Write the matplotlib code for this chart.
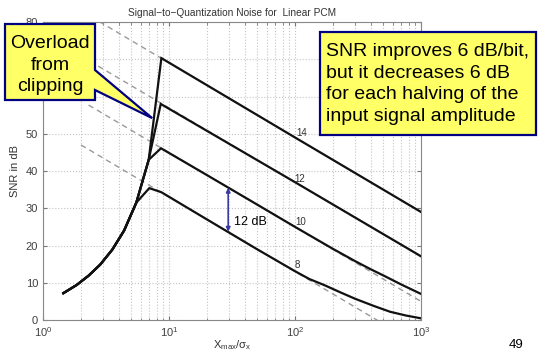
import matplotlib.pyplot as plt
from matplotlib.patches import Polygon
from matplotlib.ticker import LogLocator, NullFormatter

plt.rcParams['font.family'] = ['Liberation Sans', 'DejaVu Sans']
plt.rcParams['mathtext.fontset'] = 'custom'
plt.rcParams['mathtext.rm'] = 'Liberation Sans'
plt.rcParams['mathtext.it'] = 'Liberation Sans:italic'
plt.rcParams['mathtext.default'] = 'regular'

# shared overload (clipping) path, same for every word length
overload_x = [1.45, 1.85, 2.3, 2.85, 3.55, 4.4, 5.5]
overload_snr = [7.2, 9.4, 11.9, 14.9, 18.9, 24.0, 31.5]
# point where the 10/12/14 bit curves leave the 8 bit one
knee_x = [6.9]
knee_snr = [43.0]

# each word length: peak, then granular-noise slope out to X=1000
b8_x = [6.98, 8.7, 20, 50, 100, 130, 170, 230, 300, 420, 570, 760, 1000]
b8_snr = [35.4, 34.3, 27.0, 19.0, 13.1, 11.0, 9.4, 7.4, 5.7, 3.8, 2.2, 1.2, 0.45]
b10_x = [8.64, 20, 50, 100, 200, 300, 400, 500, 700, 1000]
b10_snr = [46.1, 38.9, 31.0, 25.0, 19.1, 15.8, 13.6, 12.0, 9.5, 7.0]
b12_x = [8.6, 100, 1000]
b12_snr = [58.0, 37.0, 17.1]
b14_x = [8.7, 100, 1000]
b14_snr = [70.3, 49.0, 29.0]

# dashed 6B + 4.77 - 20log(X) asymptotes: start point and value at X=1000
bits = ['8', '10', '12', '14']
asym_x0 = [2.0, 2.3, 2.35, 2.8]
asym_snr0 = [47.0, 57.7, 69.5, 80.1]
asym_snr1000 = [-7.0, 5.0, 17.0, 29.0]

# where the bit labels sit
label_x = [104, 110, 109, 112]
label_snr = [14.8, 26.4, 37.8, 50.1]

# the 12 dB gap marked between the 8 and 10 bit curves
gap_x = 29.5
gap_lo, gap_hi = 23.7, 35.5

W, H = 538, 353
fig = plt.figure(figsize=(W / 100, H / 100), dpi=100)
ax = fig.add_axes([43 / W, 1 - 320 / H, (421 - 43) / W, (320 - 22) / H])

for x0, s0, s1 in zip(asym_x0, asym_snr0, asym_snr1000):
    ax.plot([x0, 1000], [s0, s1], color='#9a9a9a', lw=1.0, dashes=(4, 3), zorder=2)

curves = [
    (overload_x + b8_x, overload_snr + b8_snr),
    (overload_x + knee_x + b10_x, overload_snr + knee_snr + b10_snr),
    (overload_x + knee_x + b12_x, overload_snr + knee_snr + b12_snr),
    (overload_x + knee_x + b14_x, overload_snr + knee_snr + b14_snr),
]
for xs, ys in curves:
    ax.plot(xs, ys, color='#111111', lw=1.6, solid_joinstyle='miter', zorder=3)

for b, lx, ly in zip(bits, label_x, label_snr):
    ax.text(lx, ly, b, fontsize=7, color='#333333', ha='center', va='center')

ax.annotate('', xy=(gap_x, gap_hi), xytext=(gap_x, gap_lo),
            arrowprops=dict(arrowstyle='<|-|>', color='#3a3aa0', lw=1.2,
                            mutation_scale=6, shrinkA=0, shrinkB=0))
ax.text(32.8, 26.4, '12 dB', fontsize=9, ha='left', va='center')

ax.set_xscale('log')
ax.set_xlim(1, 1000)
ax.set_ylim(0, 80)
ax.set_yticks(range(0, 81, 10))
# 60 and 70 sit under the callout box anyway
ax.set_yticklabels(['0', '10', '20', '30', '40', '50', '', '', '80'])
ax.xaxis.set_minor_locator(LogLocator(base=10, subs=range(2, 10)))
ax.xaxis.set_minor_formatter(NullFormatter())
ax.grid(True, which='major', color='#c4c4c4', ls=':', lw=0.8)
ax.grid(True, which='minor', axis='x', color='#c4c4c4', ls=':', lw=0.8)
ax.tick_params(which='both', direction='in', top=True, right=True,
               labelsize=8, labelcolor='#404040', color='#777777')
ax.tick_params(which='major', length=3, pad=3.5)
ax.tick_params(which='minor', length=1.8)
for s in ax.spines.values():
    s.set_color('#888888')
    s.set_linewidth(0.8)

ax.set_title('Signal\u2212to\u2212Quantization Noise for  Linear PCM',
             fontsize=7.3, color='#333333', pad=4)
ax.set_xlabel(r'X$_{max}$/$\sigma_x$', fontsize=8, color='#333333', labelpad=0)
ax.set_ylabel('SNR in dB', fontsize=8, color='#333333', labelpad=4)


def fpos(x, y):
    return (x / W, 1 - y / H)


# callout pointing at the overload corner
tip = fig.transFigure.inverted().transform(ax.transData.transform((7.35, 54.2)))
call1 = [fpos(5, 24), fpos(95, 24), fpos(95, 70), tuple(tip), fpos(95, 90),
         fpos(95, 100), fpos(5, 100)]
fig.add_artist(Polygon(call1, closed=True, facecolor='#ffff66', edgecolor='#000080',
                       lw=1.6, transform=fig.transFigure, zorder=5))
fig.text(*fpos(50, 65), 'Overload\nfrom\nclipping', fontsize=14, ha='center',
         va='center', linespacing=1.37, zorder=6)

call2 = [fpos(320, 32), fpos(536, 32), fpos(536, 135), fpos(320, 135)]
fig.add_artist(Polygon(call2, closed=True, facecolor='#ffff66', edgecolor='#000080',
                       lw=1.6, transform=fig.transFigure, zorder=5))
fig.text(*fpos(326, 84), 'SNR improves 6 dB/bit,\nbut it decreases 6 dB\n'
         'for each halving of the\ninput signal amplitude',
         fontsize=14, ha='left', va='center', linespacing=1.37, zorder=6)

fig.text(*fpos(516, 345), '49', fontsize=9.5, ha='center', va='center')

fig.savefig('out.png', dpi=100)
